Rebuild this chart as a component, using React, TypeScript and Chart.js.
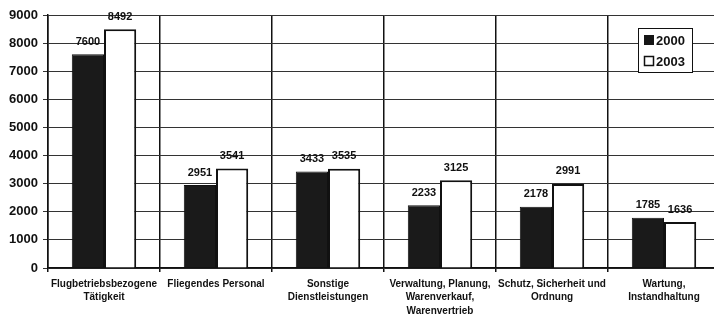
import React, { useEffect, useRef } from "react";
import { Chart, registerables } from "chart.js";

Chart.register(...registerables);

const categories: string[][] = [
  ["Flugbetriebsbezogene", "Tätigkeit"],
  ["Fliegendes Personal"],
  ["Sonstige", "Dienstleistungen"],
  ["Verwaltung, Planung,", "Warenverkauf,", "Warenvertrieb"],
  ["Schutz, Sicherheit und", "Ordnung"],
  ["Wartung,", "Instandhaltung"],
];
const series2000 = [7600, 2951, 3433, 2233, 2178, 1785];
const series2003 = [8492, 3541, 3535, 3125, 2991, 1636];
const seriesNames = ["2000", "2003"];
const yTicks = [0, 1000, 2000, 3000, 4000, 5000, 6000, 7000, 8000, 9000];

const FONT = "'Liberation Sans', Arial, Helvetica, sans-serif";

const labelsPlugin = {
  id: "valueLabels",
  afterDatasetsDraw(chart: any) {
    const ctx = chart.ctx;
    ctx.save();
    ctx.font = `bold 11px ${FONT}`;
    ctx.fillStyle = "#111";
    ctx.textAlign = "center";
    ctx.textBaseline = "bottom";
    chart.data.datasets.forEach((ds: any, di: number) => {
      const meta = chart.getDatasetMeta(di);
      meta.data.forEach((bar: any, i: number) => {
        ctx.fillText(String(ds.data[i]), bar.x, bar.y - 7);
      });
    });
    // legend
    const x0 = 638, y0 = 28, w = 54, h = 44;
    ctx.fillStyle = "#fff";
    ctx.fillRect(x0, y0, w, h);
    ctx.strokeStyle = "#111";
    ctx.lineWidth = 1;
    ctx.strokeRect(x0 + 0.5, y0 + 0.5, w, h);
    ctx.font = `bold 13px ${FONT}`;
    ctx.textAlign = "left";
    ctx.textBaseline = "middle";
    seriesNames.forEach((name, i) => {
      const cy = y0 + 12 + i * 21;
      if (i === 0) {
        ctx.fillStyle = "#151515";
        ctx.fillRect(x0 + 6, cy - 5, 10, 10);
      } else {
        ctx.fillStyle = "#fff";
        ctx.fillRect(x0 + 6, cy - 5, 10, 10);
        ctx.strokeStyle = "#111";
        ctx.lineWidth = 1.5;
        ctx.strokeRect(x0 + 6.5, cy - 4.5, 9, 9);
      }
      ctx.fillStyle = "#111";
      ctx.fillText(name, x0 + 18, cy + 1);
    });
    ctx.restore();
  },
};

export default function App() {
  const ref = useRef<HTMLCanvasElement>(null);
  useEffect(() => {
    const chart = new Chart(ref.current!, {
      type: "bar",
      data: {
        labels: categories,
        datasets: [
          {
            label: seriesNames[0],
            data: series2000,
            backgroundColor: "#1a1a1a",
            borderColor: "#111",
            borderWidth: 1,
            categoryPercentage: 0.575,
            barPercentage: 1,
          },
          {
            label: seriesNames[1],
            data: series2003,
            backgroundColor: "#ffffff",
            borderColor: "#111",
            borderWidth: 2,
            categoryPercentage: 0.575,
            barPercentage: 1,
          },
        ],
      },
      options: {
        responsive: false,
        animation: false,
        layout: { padding: { top: 15, right: 2, left: 0, bottom: 0 } },
        plugins: { legend: { display: false }, tooltip: { enabled: false } },
        scales: {
          x: {
            offset: true,
            grid: {
              offset: true,
              color: "#111",
              lineWidth: 1.5,
              drawTicks: true,
              tickLength: 4,
            },
            border: { color: "#111", width: 1.5 },
            ticks: {
              color: "#111",
              font: { family: FONT, size: 10, weight: "bold", lineHeight: 1.35 },
              maxRotation: 0,
              autoSkip: false,
              padding: 5,
            },
            afterFit(scale: any) {
              scale.height = 47;
            },
          },
          y: {
            min: 0,
            max: 9000,
            afterBuildTicks(scale: any) {
              scale.ticks = yTicks.map((v) => ({ value: v }));
            },
            grid: { color: "#333", lineWidth: 1, tickLength: 5 },
            border: { color: "#111", width: 1.5 },
            ticks: {
              color: "#111",
              font: { family: FONT, size: 13, weight: "bold" },
              padding: 5,
              callback: (v: any) => String(v),
            },
            afterFit(scale: any) {
              scale.width = 48;
            },
          },
        },
      },
      plugins: [labelsPlugin],
    } as any);
    return () => chart.destroy();
  }, []);
  return (
    <div
      style={{
        position: "fixed",
        left: 0,
        top: 0,
        width: 714,
        height: 315,
        overflow: "hidden",
        background: "#fff",
      }}
    >
      <canvas ref={ref} width={722} height={315} style={{ display: "block" }} />
    </div>
  );
}
